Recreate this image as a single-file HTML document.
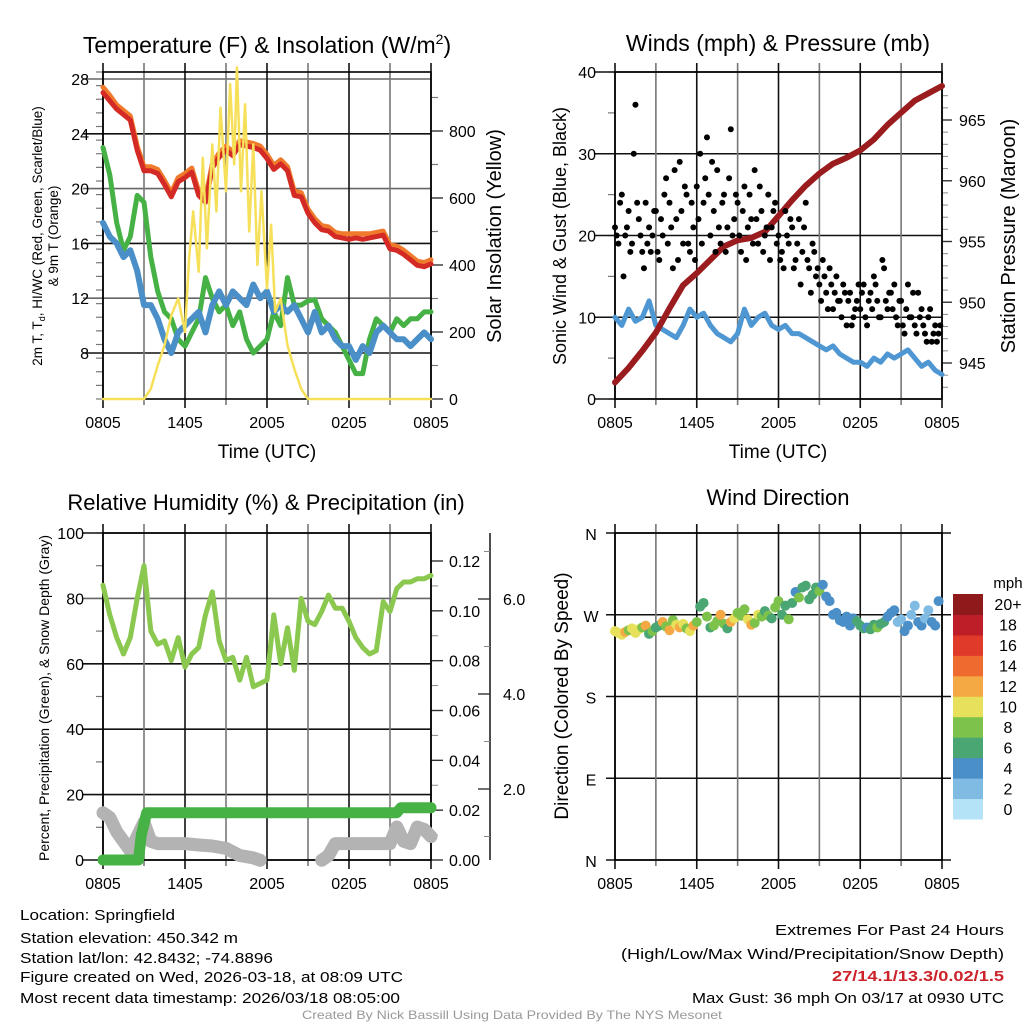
<!DOCTYPE html>
<html><head><meta charset="utf-8"><title>Station Meteogram</title>
<style>
html,body{margin:0;padding:0;background:#fff;}
svg{display:block;font-family:"Liberation Sans",sans-serif;}
</style></head>
<body>
<svg id="chart" width="1024" height="1024" viewBox="0 0 1024 1024" xmlns="http://www.w3.org/2000/svg">
<rect width="1024" height="1024" fill="#fff"/>
<g id="p1"></g>
<g id="p2"></g>
<g id="p3"></g>
<g id="p4"></g>

<text x="267" y="53" font-size="23" text-anchor="middle">Temperature (F) &amp; Insolation (W/m<tspan dy="-9" font-size="14">2</tspan><tspan dy="9">)</tspan></text>
<text x="778" y="51" font-size="23" text-anchor="middle">Winds (mph) &amp; Pressure (mb)</text>
<text x="266" y="510" font-size="22" text-anchor="middle">Relative Humidity (%) &amp; Precipitation (in)</text>
<text x="778" y="505" font-size="22" text-anchor="middle">Wind Direction</text>

<text x="267" y="458" font-size="19" text-anchor="middle">Time (UTC)</text>
<text x="778" y="458" font-size="19" text-anchor="middle">Time (UTC)</text>

<text transform="translate(42,236) rotate(-90)" font-size="13.5" text-anchor="middle">2m T, T<tspan font-size="9" dy="3">d</tspan><tspan dy="-3">, HI/WC (Red, Green, Scarlet/Blue)</tspan></text>
<text transform="translate(58,236) rotate(-90)" font-size="13.5" text-anchor="middle">&amp; 9m T (Orange)</text>
<text transform="translate(501,236) rotate(-90)" font-size="20" text-anchor="middle">Solar Insolation (Yellow)</text>
<text transform="translate(566,236) rotate(-90)" font-size="18" text-anchor="middle">Sonic Wind &amp; Gust (Blue, Black)</text>
<text transform="translate(1015,236) rotate(-90)" font-size="20" text-anchor="middle">Station Pressure (Maroon)</text>
<text transform="translate(49,698) rotate(-90)" font-size="14" text-anchor="middle">Percent, Precipitation (Green), &amp; Snow Depth (Gray)</text>
<text transform="translate(568,696) rotate(-90)" font-size="19" text-anchor="middle">Direction (Colored By Speed)</text>

<g font-size="15">
<text x="20" y="920" textLength="155" lengthAdjust="spacingAndGlyphs">Location: Springfield</text>
<text x="20" y="943" textLength="218" lengthAdjust="spacingAndGlyphs">Station elevation: 450.342 m</text>
<text x="20" y="963" textLength="253" lengthAdjust="spacingAndGlyphs">Station lat/lon: 42.8432; -74.8896</text>
<text x="20" y="982" textLength="383" lengthAdjust="spacingAndGlyphs">Figure created on Wed, 2026-03-18, at 08:09 UTC</text>
<text x="20" y="1003" textLength="380" lengthAdjust="spacingAndGlyphs">Most recent data timestamp: 2026/03/18 08:05:00</text>
</g>
<g font-size="15" text-anchor="end">
<text x="1004" y="935" textLength="229" lengthAdjust="spacingAndGlyphs">Extremes For Past 24 Hours</text>
<text x="1004" y="959" textLength="383" lengthAdjust="spacingAndGlyphs">(High/Low/Max Wind/Precipitation/Snow Depth)</text>
<text x="1004" y="981" fill="#cc2229" font-weight="bold" textLength="172" lengthAdjust="spacingAndGlyphs">27/14.1/13.3/0.02/1.5</text>
<text x="1004" y="1003" textLength="312" lengthAdjust="spacingAndGlyphs">Max Gust: 36 mph On 03/17 at 0930 UTC</text>
</g>
<text x="512" y="1019" font-size="12" fill="#999" text-anchor="middle" textLength="420" lengthAdjust="spacingAndGlyphs">Created By Nick Bassill Using Data Provided By The NYS Mesonet</text>
</svg>
<script>
// ---------- DATA ----------
const hours = [0,0.5,1,1.5,2,2.5,3,3.5,4,4.5,5,5.5,6,6.5,7,7.5,8,8.5,9,9.5,10,10.5,11,11.5,12,12.5,13,13.5,14,14.5,15,15.5,16,16.5,17,17.5,18,18.5,19,19.5,20,20.5,21,21.5,22,22.5,23,23.5,24];
const timeTicks = ["0805","1405","2005","0205","0805"];
const tempRed = [27,26.4,25.8,25.4,25,22.8,21.3,21.3,21.1,20.3,19.4,20.5,20.8,21.2,19.5,19,21.5,22.3,22.8,22.4,23.2,23.1,23,22.8,22.2,21.4,21.8,21.3,19.5,19.4,18.2,17.5,17,16.9,16.5,16.4,16.3,16.4,16.3,16.4,16.5,16.6,15.6,15.5,15.2,14.8,14.4,14.3,14.5];
const tempOrange = [27.4,26.8,26.1,25.7,25.3,23.1,21.6,21.6,21.4,20.6,19.7,20.8,21.1,21.5,19.8,19.3,21.8,22.6,23.1,22.7,23.5,23.4,23.3,23.1,22.5,21.7,22.1,21.6,19.8,19.7,18.5,17.8,17.3,17.2,16.8,16.7,16.7,16.7,16.7,16.7,16.8,16.9,15.9,15.8,15.5,15.1,14.7,14.6,14.8];
const dewGreen = [23,21,17.5,15.5,16.5,19.5,19,15,12.5,11,10.5,9,8.5,9.5,10.5,13.5,12,11,11.5,10,11,9,8,8.5,9,11,10,13.5,11.5,11.5,11.8,11.9,10.5,10,9.5,8.5,7.5,6.5,6.5,9,10.5,10,9.5,10.5,10,10.5,10.5,11,11];
const feelsBlue = [17.5,16.5,16,15,15.5,14,11.5,11.5,10.5,9,8,9.5,10,10.5,11,9.5,11.5,12.5,11.5,12.5,12,11.5,13,12,12.5,11,11.5,11,11.5,10.5,9.5,11,9.5,10,9,8.5,8.5,7.5,8.5,8,9.5,10,9.5,9,9,8.5,9,9.5,9];
const solarHours = [0,3,3.5,4,4.5,5,5.5,6,6.3,6.6,7,7.3,7.6,8,8.3,8.6,9,9.3,9.6,9.8,10.1,10.4,10.7,11,11.3,11.6,12,12.3,12.6,13,13.5,14,14.5,15,24];
const solarValues = [0,0,30,100,160,250,300,200,420,560,380,720,450,760,560,870,620,940,700,990,620,880,500,760,400,620,330,520,260,300,160,90,30,0,0];
const yTicksTemp = [8,12,16,20,24,28];
const yTicksSolar = [0,200,400,600,800];

const windHours = [0,1,2,3,4,5,6,7,8,9,10,11,12,13,14,15,16,17,18,19,20,21,22,23,24];
const windSpeed = [10,9,11,9.5,10,12,9,8.5,8,7.5,9,11,10,10.5,9,8,7.5,7,8,11,9,10,10.5,9,8.5,9,8,8,7.5,7,6.5,6,6.5,5.5,5,4.5,4.5,4,5,4.5,5.5,5,5.5,6,5,4,4.5,3.5,3];
const pressure = [943.4,944.6,946,947.5,949.5,951.4,952.4,953.5,954.6,955.1,955.3,955.8,957.1,958.4,959.6,960.6,961.4,961.9,962.5,963.4,964.6,965.6,966.6,967.2,967.8];
const gusts = [21,19,25,20,23,19,36,22,18,24,21,20, 23,17,20,27,24,16,22,29,19,25,18,21, 26,30,24,32,20,23,28,19,25,21,33,22, 24,18,26,21,22,28,19,23,20,25,21,24, 20,18,23,19,21,17,22,18,24,16,19,15, 14,17,13,16,11,15,12,14,9,13,10,12, 11,14,9,13,15,12,10,16,11,13,14,9, 12,8,14,10,9,13,11,8,10,7,9,8];
const gusts2 = [20,24,15,21,18,30,24,20,16,19,18,23, 18,22,25,19,21,28,17,23,26,19,24,17, 22,19,27,25,29,18,21,24,18,27,20,25, 20,23,17,25,19,22,26,18,21,17,23,19, 17,16,20,22,16,19,14,21,17,13,18,16, 12,15,11,14,13,12,10,13,12,9,11,14, 13,10,12,11,14,10,17,12,13,11,10,12, 9,11,10,13,8,10,9,7,11,8,7,9];
const yTicksWind = [0,10,20,30,40];
const yTicksPressure = [945,950,955,960,965];

const rhValues = [84,75,68,63,68,80,90,70,66,67,61,68,59,63,65,75,82,67,61,62,55,62,53,54,55,75,60,71,58,80,73,72,76,81,77,77,73,68,65,63,64,79,76,83,85,85,86,86,87];
const precipHours = [0,2.6,2.8,3.2,21.5,21.8,24];
const precipValues = [0,0,0.01,0.019,0.019,0.021,0.021];
const snowHours = [0,0.5,1,1.5,2,3,3.5,4,5,6,7,8,9,10,11,11.5];
const snowValues = [1.5,1.4,1.1,0.9,0.7,1.3,0.9,0.85,0.85,0.85,0.82,0.8,0.75,0.6,0.55,0.5];
const snowHours2 = [16,16.5,17,17.5,18,19,20,21,21.5,22,22.5,23,23.5,24];
const snowValues2 = [0.5,0.6,0.85,0.85,0.85,0.85,0.85,0.85,1.2,0.9,0.85,1.2,1.15,1.0];
const yTicksRH = [0,20,40,60,80,100];
const yTicksPrecip = [0.00,0.02,0.04,0.06,0.08,0.10,0.12];
const yTicksSnow = [2.0,4.0,6.0];

const dirValues = [252,250,248,251,253,255,250,254,256,258,249,252, 256,258,262,257,253,264,259,256,260,255,252,258, 262,279,283,268,256,258,263,270, 260,255,262,266,272,269,276,265,259,261,270,268, 274,269,266,278,285,270,280,265, 283,295,289,300,302,287,292,300,296,303,290,285, 270,272,264,262,268,258,266,263, 258,255,256,254,259,256,260,262, 268,272,275,262,265,252,258,270,280,262,258,266,275,262,258,285];
const dirSpeeds = [10,11,10,12,9,10,11,10,8,12,7,8, 7,7,12,8,12,8,10,12,10,9,11,12, 8,6,7,8,7,8,9,12, 8,7,12,10,9,8,8,11,12,8,10,8, 7,8,6,9,8,7,6,8, 6,5,8,6,7,6,6,6,8,5,5,4, 4,4,4,4,4,4,4,6, 6,6,4,7,6,8,6,7, 4,4,4,3,2,4,4,3,2,4,4,2,2,4,4,4];
const dirLabels = ["N","E","S","W","N"];
const speedBins = ["0","2","4","6","8","10","12","14","16","18","20+"];
const speedColors = ["#b4e2f6","#80bbe3","#4a8fc7","#4aa673","#7dc24a","#e6e05a","#f5a944","#ee6a2e","#e03a2a","#be1e28","#8e1a1b"];

// ---------- HELPERS ----------
const NS = "http://www.w3.org/2000/svg";
function mk(parent, tag, attrs){const e=document.createElementNS(NS,tag);for(const k in attrs)e.setAttribute(k,attrs[k]);parent.appendChild(e);return e;}
function lin(d0,d1,r0,r1){return v=>r0+(v-d0)*(r1-r0)/(d1-d0);}
function pathD(xs,ys,fx,fy){return xs.map((x,i)=>(i?"L":"M")+fx(x).toFixed(1)+","+fy(ys[i]).toFixed(1)).join("");}

function frame(g,L,R,T,B,fx){
  for(let i=0;i<=8;i++){
    const x=fx(i*3);
    const ln=mk(g,"line",{x1:x,x2:x,y1:T-9,y2:B+(i%2?6:9),stroke:i%2?"#777":"#111","stroke-width":1.6});
    
    
  }
  for(let i=0;i<5;i++){
    const t=mk(g,"text",{x:fx(i*6),y:B+29,"font-size":16,"text-anchor":"middle"});
    t.textContent=timeTicks[i];
    
    
  }
  const r=mk(g,"rect",{x:L,y:T,width:R-L,height:B-T,fill:"none",stroke:"#000","stroke-width":1.6});
  
  
}
function hgrid(g,L,R,y,color,name,ext){
  const ln=mk(g,"line",{x1:L-(ext===undefined?20:ext),x2:R,y1:y,y2:y,stroke:color,"stroke-width":1.6});
  
  
}
function label(g,x,y,txt,anchor,size,name){
  const t=mk(g,"text",{x:x,y:y,"font-size":size,"text-anchor":anchor});
  t.textContent=txt;
  
  
  return t;
}
function line(g,d,color,w,name){
  const p=mk(g,"path",{d:d,fill:"none",stroke:color,"stroke-width":w,"stroke-linejoin":"round","stroke-linecap":"round"});
  
  
}
function minorTicks(g,x,T,B,n,dir){
  for(let i=0;i<=n;i++){const y=T+(B-T)*i/n;
    const l=mk(g,"line",{x1:x,x2:x+dir*7,y1:y,y2:y,stroke:"#777","stroke-width":1.2});
    
    }
}

// ---------- PANEL 1 ----------
(function(){
  const g=document.getElementById("p1");const L=103,R=431,T=72,B=399;
  const fx=lin(0,24,L,R), fy=lin(8,28,353,79), fs=lin(0,800,399,131);
  minorTicks(g,L,T,B,24,-1);
  for(const v of yTicksTemp){hgrid(g,L,R,fy(v),v===28||v===20||v===12?"#666":"#111","y-gridline");label(g,L-14,fy(v)+6,String(v),"end",16,"y-tick-label-temp");}
  for(const v of yTicksSolar){const y=fs(v);const l=mk(g,"line",{x1:R,x2:R+12,y1:y,y2:y,stroke:"#333","stroke-width":1.4});label(g,R+18,y+6,String(v),"start",16,"y-tick-label-solar");}
  for(let v=100;v<=900;v+=200){const y=fs(v);const l=mk(g,"line",{x1:R,x2:R+7,y1:y,y2:y,stroke:"#777","stroke-width":1.2});}
  frame(g,L,R,T,B,fx);
  line(g,pathD(hours,dewGreen,fx,fy),"#46b144",5,"dewpoint-line");
  line(g,pathD(hours,feelsBlue,fx,fy),"#4a8fc7",6,"windchill-line");
  line(g,pathD(hours,tempOrange,fx,fy),"#f07a2c",5,"temp-9m-line");
  line(g,pathD(hours,tempRed,fx,fy),"#d42a25",5,"temp-2m-line");
  line(g,pathD(solarHours,solarValues,fx,fs),"#f6e05a",2.5,"solar-line");
})();

// ---------- PANEL 2 ----------
(function(){
  const g=document.getElementById("p2");const L=615,R=942,T=72,B=399;
  const fx=lin(0,24,L,R), fy=lin(0,40,B,T), fp=lin(945,965,363,120);
  minorTicks(g,L,T,B,8,-1);
  for(const v of yTicksWind){hgrid(g,L,R,fy(v),"#111","y-gridline");label(g,L-19,fy(v)+6,String(v),"end",16,"y-tick-label-wind");}
  for(const v of yTicksPressure){const y=fp(v);const l=mk(g,"line",{x1:R,x2:R+10,y1:y,y2:y,stroke:"#333","stroke-width":1.4});label(g,R+17,y+6,String(v),"start",16,"y-tick-label-pressure");}
  for(let v=943;v<=967;v++){if(v%5===0)continue;const y=fp(v);const l=mk(g,"line",{x1:R,x2:R+6,y1:y,y2:y,stroke:"#888","stroke-width":1});}
  frame(g,L,R,T,B,fx);
  line(g,pathD(hours,windSpeed,fx,fy),"#4f97d2",5,"wind-speed-line");
  line(g,pathD(windHours,pressure,fx,fp),"#9b1c1e",6,"pressure-line");
  gusts.forEach((v,i)=>{const c=mk(g,"circle",{cx:fx(i*0.25),cy:fy(v),r:3,fill:"#000"});});
  gusts2.forEach((v,i)=>{const c=mk(g,"circle",{cx:fx(i*0.25+0.125),cy:fy(v),r:3,fill:"#000"});});
})();

// ---------- PANEL 3 ----------
(function(){
  const g=document.getElementById("p3");const L=103,R=431,T=533,B=860;
  const fx=lin(0,24,L,R), fy=lin(0,100,B,T), fpr=lin(0,0.12,B,561), fsn=lin(2,6,789,599);
  minorTicks(g,L,T,B,10,-1);
  for(const v of yTicksRH){hgrid(g,L,R,fy(v),v===80?"#666":"#111","y-gridline");label(g,L-19,fy(v)+6,String(v),"end",16,"y-tick-label-rh");}
  for(const v of yTicksPrecip){const y=fpr(v);const l=mk(g,"line",{x1:R,x2:R+12,y1:y,y2:y,stroke:"#333","stroke-width":1.4});label(g,R+18,y+6,v.toFixed(2),"start",16,"y-tick-label-precip");}
  for(let v=0.01;v<0.13;v+=0.02){const y=fpr(v);const l=mk(g,"line",{x1:R,x2:R+7,y1:y,y2:y,stroke:"#888","stroke-width":1});}
  const ax=mk(g,"line",{x1:490,x2:490,y1:T,y2:B,stroke:"#222","stroke-width":1.6});
  for(const v of yTicksSnow){const y=fsn(v);const l=mk(g,"line",{x1:490,x2:478,y1:y,y2:y,stroke:"#333","stroke-width":1.4});label(g,503,y+6,v.toFixed(1),"start",16,"y-tick-label-snow");}
  for(let v=1;v<=7;v+=2){const y=fsn(v);if(y<T)continue;const l=mk(g,"line",{x1:490,x2:484,y1:y,y2:y,stroke:"#888","stroke-width":1});}
  frame(g,L,R,T,B,fx);
  line(g,pathD(hours,rhValues,fx,fy),"#8bc84f",5,"humidity-line");
  line(g,pathD(snowHours,snowValues,fx,fsn),"#b3b3b3",13,"snow-depth-line");
  line(g,pathD(snowHours2,snowValues2,fx,fsn),"#b3b3b3",13,"snow-depth-line-2");
  line(g,pathD(precipHours,precipValues,fx,fpr),"#46b144",11,"precip-line");
})();

// ---------- PANEL 4 ----------
(function(){
  const g=document.getElementById("p4");const L=615,R=942,T=533,B=860;
  const fx=lin(0,24,L,R), fy=lin(0,360,B,T);
  dirLabels.forEach((t,i)=>{const y=fy(i*90);hgrid(g,L,R+9,y,"#111","y-gridline",9);label(g,L-24,y+7,t,"middle",16,"y-tick-label-direction");});
  frame(g,L,R,T,B,fx);
  dirValues.forEach((v,i)=>{
    const s=dirSpeeds[i];const ci=Math.min(10,Math.floor(s/2));
    const c=mk(g,"circle",{cx:fx(i*0.25),cy:fy(v),r:5,fill:speedColors[ci]});
    
    
  });
  const cbT=594,cbB=819,h=(cbB-cbT)/11;
  label(g,1008,588,"mph","middle",15,"colorbar-title");
  for(let i=0;i<11;i++){
    const y=cbB-(i+1)*h;
    const r=mk(g,"rect",{x:953,y:y,width:30,height:h+0.5,fill:speedColors[i]});
    
    
    label(g,1008,y+h/2+6,speedBins[i],"middle",16,"colorbar-label");
  }
})();
</script>
</body></html>
